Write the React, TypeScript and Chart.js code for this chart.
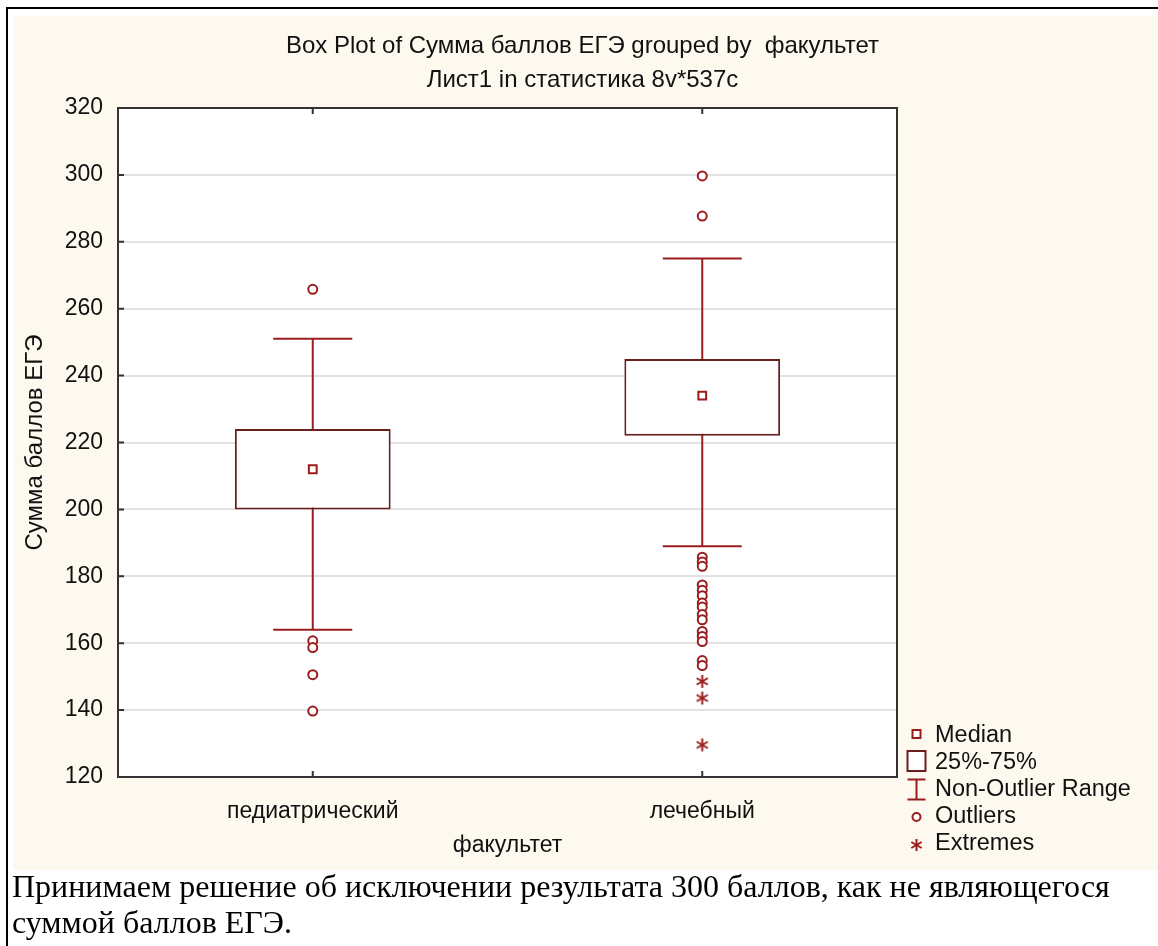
import React, { useEffect, useRef } from 'react';
import { Chart, registerables } from 'chart.js';

Chart.register(...registerables);

// ---------- data ----------
const categories = ['педиатрический', 'лечебный'];
const q1Values = [200, 222];
const q3Values = [224, 245];
const medianValues = [212, 234];
const whiskerLowValues = [164, 189];
const whiskerHighValues = [251, 275];
const outliersPediatric = [265.8, 160.7, 158.7, 150.6, 139.7];
const outliersMedical = [
  299.7, 287.7, 185.7, 184.3, 183.0, 177.4, 175.8, 174.2, 172.0, 170.8,
  168.6, 167.0, 163.5, 162.0, 160.5, 154.8, 153.3,
];
const extremesPediatric: number[] = [];
const extremesMedical = [148.6, 143.6, 129.6];

const Y_MIN = 120;
const Y_MAX = 320;
const Y_STEP = 20;

const titleLines = ['Box Plot of Сумма баллов ЕГЭ grouped by  факультет', 'Лист1 in статистика 8v*537c'];
const yAxisTitle = 'Сумма баллов ЕГЭ';
const xAxisTitle = 'факультет';
const legendLabels = ['Median', '25%-75%', 'Non-Outlier Range', 'Outliers', 'Extremes'];
const noteLines = [
  'Принимаем решение об исключении результата 300 баллов, как не являющегося',
  'суммой баллов ЕГЭ.',
];

// ---------- styles ----------
const RED = '#9a1c1c';
const BOX = '#6a1f1f';
const CREAM = '#fef9ef';
const TEXT = '#111111';
const FONT = "'Liberation Sans', Arial, sans-serif";

function drawAsterisk(ctx: CanvasRenderingContext2D, cx: number, cy: number, r: number, color: string, lw: number) {
  ctx.save();
  ctx.strokeStyle = color;
  ctx.lineWidth = lw;
  for (let k = 0; k < 3; k++) {
    const a = Math.PI / 2 + (k * Math.PI) / 3;
    ctx.beginPath();
    ctx.moveTo(cx - r * Math.cos(a), cy - r * Math.sin(a));
    ctx.lineTo(cx + r * Math.cos(a), cy + r * Math.sin(a));
    ctx.stroke();
  }
  ctx.restore();
}

function makeAsteriskImage(size: number) {
  const c = document.createElement('canvas');
  c.width = size;
  c.height = size;
  const ctx = c.getContext('2d')!;
  drawAsterisk(ctx, size / 2, size / 2, size / 2 - 1, RED, 2);
  return c;
}

const decorPlugin = {
  id: 'decor',
  beforeDraw(chart: any) {
    const { ctx, chartArea } = chart;
    ctx.save();
    ctx.fillStyle = CREAM;
    ctx.fillRect(0, 0, chart.width, chart.height);
    ctx.fillStyle = '#ffffff';
    ctx.fillRect(chartArea.left, chartArea.top, chartArea.right - chartArea.left, chartArea.bottom - chartArea.top);
    // title
    ctx.fillStyle = TEXT;
    ctx.font = `24px ${FONT}`;
    ctx.textAlign = 'center';
    ctx.textBaseline = 'middle';
    titleLines.forEach((line, i) => ctx.fillText(line, chart.width / 2 - 3, 30 + i * 34));
    ctx.restore();
  },
  afterDraw(chart: any) {
    const { ctx, chartArea, scales } = chart;
    const { left, right, top, bottom } = chartArea;
    ctx.save();
    // frame
    ctx.strokeStyle = '#333333';
    ctx.lineWidth = 2;
    ctx.strokeRect(left, top, right - left, bottom - top);
    // inward ticks
    ctx.beginPath();
    for (let v = Y_MIN; v <= Y_MAX; v += Y_STEP) {
      const y = scales.y.getPixelForValue(v);
      ctx.moveTo(left, y);
      ctx.lineTo(left + 6, y);
    }
    categories.forEach((_, i) => {
      const x = scales.x.getPixelForValue(i);
      ctx.moveTo(x, top);
      ctx.lineTo(x, top + 6);
      ctx.moveTo(x, bottom);
      ctx.lineTo(x, bottom - 6);
    });
    ctx.stroke();

    // legend
    const sx = right + 19.5;
    const tx = right + 38;
    const base0 = bottom - 35;
    ctx.font = `23.5px ${FONT}`;
    ctx.textAlign = 'left';
    ctx.textBaseline = 'alphabetic';
    legendLabels.forEach((label, i) => {
      const by = base0 + i * 27;
      ctx.fillStyle = TEXT;
      ctx.fillText(label, tx, by);
      const cy = by - [8, 8, 6.5, 6, 5][i];
      ctx.lineWidth = 2;
      if (i === 0) {
        ctx.fillStyle = '#fff';
        ctx.strokeStyle = RED;
        ctx.fillRect(sx - 4, cy - 4, 8, 8);
        ctx.strokeRect(sx - 4, cy - 4, 8, 8);
      } else if (i === 1) {
        ctx.fillStyle = '#fff';
        ctx.strokeStyle = BOX;
        ctx.fillRect(sx - 9, cy - 10, 18, 20);
        ctx.strokeRect(sx - 9, cy - 10, 18, 20);
      } else if (i === 2) {
        ctx.strokeStyle = RED;
        ctx.beginPath();
        ctx.moveTo(sx - 9, cy - 10);
        ctx.lineTo(sx + 9, cy - 10);
        ctx.moveTo(sx, cy - 10);
        ctx.lineTo(sx, cy + 10);
        ctx.moveTo(sx - 9, cy + 10);
        ctx.lineTo(sx + 9, cy + 10);
        ctx.stroke();
      } else if (i === 3) {
        ctx.fillStyle = '#fff';
        ctx.strokeStyle = RED;
        ctx.beginPath();
        ctx.arc(sx, cy, 4, 0, Math.PI * 2);
        ctx.fill();
        ctx.stroke();
      } else {
        drawAsterisk(ctx, sx, cy, 6, RED, 2);
      }
    });
    ctx.restore();
  },
};

export default function App() {
  const canvasRef = useRef<HTMLCanvasElement | null>(null);

  useEffect(() => {
    const canvas = canvasRef.current;
    if (!canvas) return;
    Chart.defaults.font.family = FONT;
    const asterisk = makeAsteriskImage(15);

    const pts = (catIdx: number, values: number[]) => values.map((y) => ({ x: categories[catIdx], y }));

    const stems = categories.map((_, i) => ({
      type: 'line' as const,
      label: `stem-${i}`,
      data: [
        { x: categories[i], y: whiskerLowValues[i] },
        { x: categories[i], y: whiskerHighValues[i] },
      ],
      borderColor: RED,
      borderWidth: 2,
      pointRadius: 0,
      order: 5,
    }));

    const chart = new Chart(canvas, {
      type: 'bar',
      data: {
        labels: categories,
        datasets: [
          ...stems,
          {
            type: 'bar',
            label: 'box',
            data: categories.map((_, i) => [q1Values[i], q3Values[i]]),
            backgroundColor: '#ffffff',
            borderColor: BOX,
            borderWidth: 2,
            borderSkipped: false,
            barPercentage: 0.4,
            categoryPercentage: 1,
            order: 4,
          },
          {
            type: 'line',
            label: 'caps',
            data: categories.flatMap((_, i) => pts(i, [whiskerLowValues[i], whiskerHighValues[i]])),
            showLine: false,
            pointStyle: 'line',
            pointRadius: 39.5,
            pointBorderColor: RED,
            pointBorderWidth: 2,
            order: 3,
          },
          {
            type: 'line',
            label: 'median',
            data: categories.map((_, i) => ({ x: categories[i], y: medianValues[i] })),
            showLine: false,
            pointStyle: 'rect',
            pointRadius: 5.5,
            pointBackgroundColor: '#ffffff',
            pointBorderColor: RED,
            pointBorderWidth: 2,
            order: 1,
          },
          {
            type: 'line',
            label: 'outliers',
            data: [...pts(0, outliersPediatric), ...pts(1, outliersMedical)],
            showLine: false,
            pointStyle: 'circle',
            pointRadius: 4.5,
            pointBackgroundColor: '#ffffff',
            pointBorderColor: RED,
            pointBorderWidth: 2,
            order: 2,
          },
          {
            type: 'line',
            label: 'extremes',
            data: [...pts(0, extremesPediatric), ...pts(1, extremesMedical)],
            showLine: false,
            pointStyle: asterisk as any,
            pointRadius: 7,
            order: 2,
          },
        ] as any,
      },
      options: {
        responsive: false,
        animation: false,
        devicePixelRatio: 1,
        layout: { padding: { top: 92, right: 261, left: 0, bottom: 0 } },
        plugins: {
          legend: { display: false },
          tooltip: { enabled: false },
          title: { display: false },
        },
        scales: {
          x: {
            type: 'category',
            offset: true,
            grid: { display: false },
            border: { display: false },
            ticks: { font: { size: 23 }, color: TEXT, padding: 13 },
            title: {
              display: true,
              text: xAxisTitle,
              font: { size: 23 },
              color: TEXT,
              padding: { top: 0, bottom: 11 },
            },
            afterFit(scale: any) {
              scale.height = 93;
            },
          },
          y: {
            type: 'linear',
            min: Y_MIN,
            max: Y_MAX,
            ticks: { stepSize: Y_STEP, font: { size: 23 }, color: TEXT, padding: 15 },
            grid: { color: '#e2e2e2', lineWidth: 2, drawTicks: false },
            border: { display: false },
            title: {
              display: true,
              text: yAxisTitle,
              font: { size: 24 },
              color: TEXT,
              padding: { top: 8, bottom: 0 },
            },
            afterFit(scale: any) {
              scale.width = 105;
            },
          },
        },
      } as any,
      plugins: [decorPlugin],
    });

    return () => chart.destroy();
  }, []);

  return (
    <div style={{ position: 'absolute', left: 0, top: 0, width: 1158, height: 946, background: '#ffffff', overflow: 'hidden' }}>
      <div
        style={{
          position: 'absolute',
          left: 6,
          top: 7,
          width: 1152,
          height: 939,
          borderTop: '2px solid #000',
          borderLeft: '2px solid #000',
          boxSizing: 'border-box',
        }}
      />
      <canvas
        ref={canvasRef}
        width={1145}
        height={854}
        style={{ position: 'absolute', left: 13, top: 16, width: 1145, height: 854 }}
      />
      <div
        style={{
          position: 'absolute',
          left: 12,
          top: 868,
          fontFamily: "'Liberation Serif', 'Times New Roman', serif",
          fontSize: 32,
          lineHeight: '36px',
          color: '#000',
          whiteSpace: 'nowrap',
        }}
      >
        {noteLines[0]}
        <br />
        {noteLines[1]}
      </div>
    </div>
  );
}
